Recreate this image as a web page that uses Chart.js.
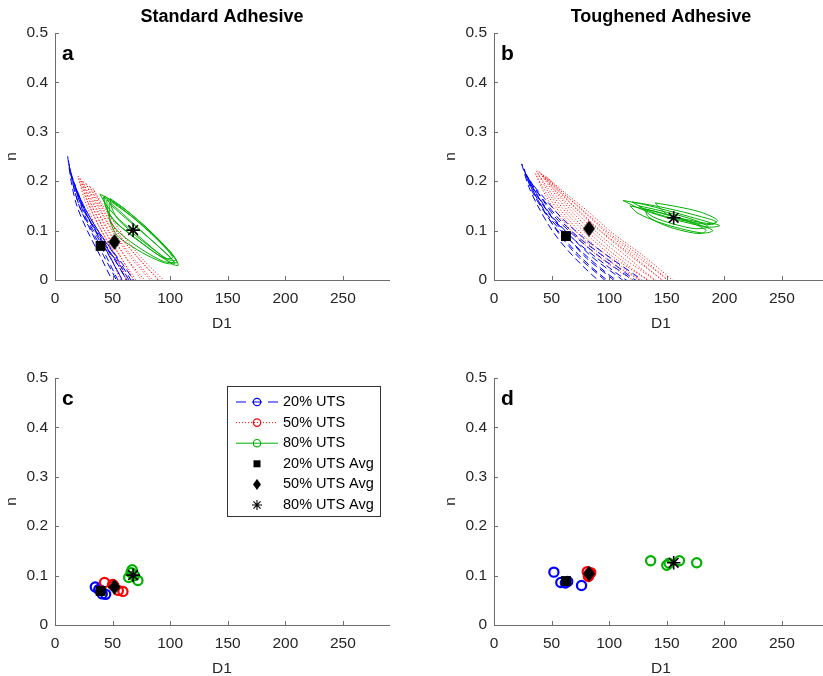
<!DOCTYPE html>
<html>
<head>
<meta charset="utf-8">
<script src="https://cdn.jsdelivr.net/npm/chart.js@4/dist/chart.umd.min.js"></script>
<style>
  html, body { margin: 0; padding: 0; background: #fff; }
  body { width: 823px; height: 676px; position: relative; overflow: hidden; }
  canvas { position: absolute; }
</style>
</head>
<body>
<canvas id="pa" width="411" height="340" style="left:0px;top:0px"></canvas>
<canvas id="pb" width="411" height="340" style="left:439px;top:0px"></canvas>
<canvas id="pc" width="411" height="340" style="left:0px;top:345px"></canvas>
<canvas id="pd" width="411" height="340" style="left:439px;top:345px"></canvas>
<script>
// ---- axis ticks ----
const xTickValues = [0, 50, 100, 150, 200, 250];
const yTickValues = [0, 0.1, 0.2, 0.3, 0.4, 0.5];
const yTickLabels = ['0', '0.1', '0.2', '0.3', '0.4', '0.5'];

// ---- Standard adhesive: (D1, n) contours per specimen ----
const stdCurves20 = [
  [[11,0.25],[14,0.20],[19,0.15],[28,0.10],[39,0.05],[51,-0.005],[54,-0.005],[42,0.05],[31,0.10],[21,0.15],[15,0.20],[11,0.25]],
  [[12,0.235],[16,0.19],[22,0.145],[32,0.10],[44,0.05],[56,-0.005],[59,-0.005],[47,0.05],[35,0.10],[24,0.145],[17,0.19],[12,0.235]],
  [[14,0.215],[19,0.175],[26,0.13],[36,0.09],[48,0.045],[60,-0.005],[63,-0.005],[51,0.045],[39,0.09],[28,0.13],[20,0.175],[14,0.215]],
  [[16,0.20],[22,0.16],[30,0.12],[40,0.08],[52,0.04],[64,-0.005],[67,-0.005],[55,0.04],[43,0.08],[32,0.12],[23,0.16],[16,0.20]],
  [[18,0.185],[25,0.145],[34,0.105],[45,0.065],[57,0.028],[66,-0.005],[69,-0.005],[60,0.028],[48,0.065],[36,0.105],[26,0.145],[18,0.185]]
];
const stdCurves50 = [
  [[20,0.21],[26,0.16],[35,0.11],[46,0.06],[58,-0.005],[62,-0.005],[50,0.06],[38,0.11],[28,0.16],[20,0.21]],
  [[22,0.205],[29,0.155],[39,0.105],[51,0.055],[65,-0.005],[69,-0.005],[55,0.055],[42,0.105],[31,0.155],[22,0.205]],
  [[24,0.20],[32,0.15],[43,0.10],[56,0.05],[72,-0.005],[76,-0.005],[60,0.05],[46,0.10],[34,0.15],[24,0.20]],
  [[27,0.195],[36,0.145],[48,0.095],[62,0.045],[80,-0.005],[84,-0.005],[66,0.045],[51,0.095],[38,0.145],[27,0.195]],
  [[30,0.19],[40,0.14],[53,0.09],[68,0.045],[87,-0.005],[91,-0.005],[72,0.045],[56,0.09],[42,0.14],[30,0.19]],
  [[33,0.185],[44,0.135],[58,0.085],[74,0.04],[93,-0.005],[96,-0.005],[77,0.04],[61,0.085],[46,0.135],[33,0.185]]
];
const stdCurves80 = [
  [[39,0.174],[50,0.160],[65,0.135],[80,0.105],[95,0.070],[104,0.045],[107,0.030],[102,0.032],[88,0.058],[72,0.090],[56,0.122],[45,0.150],[39,0.174]],
  [[43,0.170],[55,0.150],[70,0.122],[86,0.088],[100,0.055],[106,0.036],[100,0.036],[84,0.060],[66,0.092],[52,0.118],[44,0.150],[43,0.170]],
  [[45,0.162],[56,0.140],[70,0.110],[85,0.078],[98,0.050],[103,0.036],[94,0.038],[78,0.058],[62,0.084],[51,0.108],[46,0.135],[45,0.162]],
  [[47,0.155],[58,0.132],[72,0.104],[88,0.072],[100,0.046],[104,0.034],[96,0.034],[80,0.050],[64,0.072],[54,0.090],[48,0.118],[47,0.155]],
  [[42,0.168],[54,0.150],[68,0.126],[84,0.094],[97,0.062],[102,0.045],[94,0.045],[78,0.070],[62,0.098],[50,0.125],[44,0.148],[42,0.168]],
  [[48,0.165],[60,0.145],[75,0.115],[90,0.082],[101,0.055],[105,0.040],[98,0.042],[82,0.068],[66,0.098],[54,0.125],[49,0.148],[48,0.165]]
];

// ---- Toughened adhesive: (D1, n) contours per specimen ----
const tghCurves20 = [
  [[24,0.235],[30,0.19],[38,0.15],[52,0.095],[70,0.045],[93,-0.005],[98,-0.005],[74,0.045],[56,0.095],[41,0.15],[32,0.19],[24,0.235]],
  [[26,0.225],[33,0.18],[43,0.14],[57,0.095],[76,0.045],[101,-0.005],[106,-0.005],[80,0.045],[61,0.095],[46,0.14],[35,0.18],[26,0.225]],
  [[27,0.215],[35,0.175],[47,0.13],[62,0.09],[82,0.045],[109,-0.005],[114,-0.005],[86,0.045],[66,0.09],[50,0.13],[37,0.175],[27,0.215]],
  [[29,0.21],[38,0.17],[51,0.125],[68,0.085],[89,0.045],[118,-0.005],[123,-0.005],[93,0.045],[72,0.085],[54,0.125],[40,0.17],[29,0.21]],
  [[31,0.20],[42,0.165],[56,0.125],[74,0.085],[97,0.045],[126,-0.005],[131,-0.005],[101,0.045],[78,0.085],[59,0.125],[44,0.165],[31,0.20]]
];
const tghCurves50 = [
  [[36,0.215],[45,0.17],[58,0.125],[75,0.08],[95,0.04],[124,-0.005],[129,-0.005],[99,0.04],[79,0.08],[61,0.125],[47,0.17],[36,0.215]],
  [[37,0.22],[48,0.175],[62,0.13],[80,0.085],[102,0.042],[131,-0.005],[136,-0.005],[106,0.042],[84,0.085],[65,0.13],[50,0.175],[37,0.22]],
  [[39,0.22],[51,0.18],[66,0.135],[85,0.09],[108,0.045],[137,-0.005],[142,-0.005],[112,0.045],[89,0.09],[69,0.135],[53,0.18],[39,0.22]],
  [[41,0.215],[54,0.18],[70,0.14],[90,0.095],[114,0.05],[143,-0.005],[148,-0.005],[118,0.05],[94,0.095],[73,0.14],[56,0.18],[41,0.215]],
  [[43,0.212],[57,0.178],[74,0.14],[95,0.095],[120,0.05],[149,-0.005],[153,-0.005],[123,0.05],[98,0.095],[77,0.14],[59,0.178],[43,0.212]],
  [[45,0.21],[60,0.176],[78,0.14],[100,0.095],[126,0.05],[154,-0.005],[157,-0.005],[129,0.05],[103,0.095],[81,0.14],[62,0.176],[45,0.21]]
];
const tghCurves80 = [
  [[112,0.161],[130,0.153],[150,0.141],[170,0.128],[188,0.116],[196,0.110],[186,0.107],[166,0.117],[146,0.129],[126,0.145],[112,0.161]],
  [[120,0.158],[140,0.150],[160,0.140],[180,0.128],[193,0.118],[189,0.112],[170,0.118],[150,0.128],[132,0.142],[120,0.158]],
  [[126,0.150],[145,0.140],[165,0.128],[181,0.115],[186,0.107],[174,0.104],[155,0.114],[138,0.128],[126,0.150]],
  [[131,0.144],[150,0.132],[170,0.117],[184,0.101],[180,0.094],[165,0.099],[148,0.111],[134,0.128],[131,0.144]],
  [[140,0.156],[160,0.148],[180,0.137],[194,0.121],[189,0.114],[170,0.121],[150,0.133],[140,0.156]],
  [[118,0.150],[138,0.140],[158,0.128],[178,0.112],[190,0.100],[182,0.095],[162,0.104],[142,0.118],[125,0.135],[118,0.150]]
];

// ---- best-fit (D1, n) per specimen ----
const stdPoints20 = [[35,0.077],[38,0.072],[41,0.063],[44,0.062],[40,0.070]];
const stdPoints50 = [[43,0.086],[50,0.082],[55,0.070],[59,0.068],[51,0.080]];
const stdPoints80 = [[67,0.112],[66,0.106],[64,0.096],[72,0.090],[69,0.100]];
const tghPoints20 = [[52,0.107],[58,0.086],[62,0.085],[64,0.088],[76,0.080]];
const tghPoints50 = [[81,0.108],[82,0.100],[83,0.104],[84,0.106],[82,0.098]];
const tghPoints80 = [[136,0.130],[150,0.121],[152,0.125],[161,0.130],[176,0.126]];

// ---- averages: [20%, 50%, 80% UTS] ----
const stdAverages = [[39.6,0.069],[51.6,0.077],[67.8,0.101]];
const tghAverages = [[62.5,0.089],[82.5,0.104],[156,0.126]];

const legendLabels = ['20% UTS', '50% UTS', '80% UTS', '20% UTS Avg', '50% UTS Avg', '80% UTS Avg'];

// ---- styling ----
const FONT = "'Liberation Sans', Arial, Helvetica, sans-serif";
const AXIS = '#6e6e6e';
const TEXT = '#262626';
const BLUE = '#0000ff', RED = '#ff0000', GREEN = '#00b000';
const series = [
  { color: BLUE, dash: [7, 4] },
  { color: RED, dash: [1, 2] },
  { color: GREEN, dash: [] }
];

function makeDiamond(w, h) {
  const c = document.createElement('canvas');
  c.width = w; c.height = h;
  const g = c.getContext('2d');
  g.fillStyle = '#000';
  g.beginPath();
  g.moveTo(w / 2, 0); g.lineTo(w, h / 2); g.lineTo(w / 2, h); g.lineTo(0, h / 2);
  g.closePath(); g.fill();
  return c;
}
const diamondBig = makeDiamond(12, 16);
const diamondSmall = makeDiamond(8, 11);

const toXY = pts => pts.map(([x, y]) => ({ x, y }));

// higher "order" is painted first (underneath)
function curveSets(curves, s) {
  return curves.map(c => ({
    data: toXY(c), showLine: true, borderColor: s.color, borderWidth: 1,
    borderDash: s.dash, pointRadius: 0, tension: 0.3, fill: false, order: 3
  }));
}
function circleSet(points, s, order) {
  return {
    data: toXY(points), showLine: false, pointStyle: 'circle', pointRadius: 4.6,
    borderColor: s.color, borderWidth: 2.2, backgroundColor: 'rgba(0,0,0,0)', order
  };
}
function averageSets(avg) {
  return [
    { data: toXY([avg[0]]), showLine: false, pointStyle: 'rect', pointRadius: 7,
      backgroundColor: '#000', borderColor: '#000', borderWidth: 0, order: 1 },
    { data: toXY([avg[1]]), showLine: false, pointStyle: diamondBig, pointRadius: 7, order: 1 },
    { data: toXY([avg[2]]), showLine: false, pointStyle: 'star', pointRadius: 6.8,
      borderColor: '#000', borderWidth: 1.6, order: 1 }
  ];
}

function drawLegend(ctx) {
  const L = 227.5, T = 41.5, W = 153, H = 130;
  ctx.save();
  ctx.fillStyle = '#fff';
  ctx.fillRect(L, T, W, H);
  ctx.strokeStyle = '#333';
  ctx.lineWidth = 1;
  ctx.strokeRect(L, T, W, H);
  ctx.font = '14.5px ' + FONT;
  ctx.textBaseline = 'middle';
  ctx.textAlign = 'left';
  legendLabels.forEach((label, i) => {
    const yy = 57 + i * 20.6;
    const mx = 257;
    if (i < 3) {
      const s = series[i];
      ctx.strokeStyle = s.color;
      ctx.lineWidth = 1;
      ctx.setLineDash(i === 0 ? [10, 6] : s.dash);
      ctx.beginPath(); ctx.moveTo(236, yy); ctx.lineTo(278, yy); ctx.stroke();
      ctx.setLineDash([]);
      ctx.lineWidth = 1.2;
      ctx.beginPath(); ctx.arc(mx, yy, 3.7, 0, Math.PI * 2); ctx.stroke();
    } else if (i === 3) {
      ctx.fillStyle = '#000';
      ctx.fillRect(mx - 3.5, yy - 3.5, 7, 7);
    } else if (i === 4) {
      ctx.drawImage(diamondSmall, mx - 4, yy - 5.5);
    } else {
      ctx.strokeStyle = '#000'; ctx.lineWidth = 1.1;
      const r = 5, d = r * Math.SQRT1_2;
      ctx.beginPath();
      ctx.moveTo(mx - r, yy); ctx.lineTo(mx + r, yy);
      ctx.moveTo(mx, yy - r); ctx.lineTo(mx, yy + r);
      ctx.moveTo(mx - d, yy - d); ctx.lineTo(mx + d, yy + d);
      ctx.moveTo(mx - d, yy + d); ctx.lineTo(mx + d, yy - d);
      ctx.stroke();
    }
    ctx.fillStyle = '#000';
    ctx.fillText(label, 283, yy);
  });
  ctx.restore();
}

// axis decorations: inward ticks, labels, panel letters, titles, legend
const decor = {
  id: 'decor',
  afterDatasetsDraw(chart, args, opts) {
    const { ctx, chartArea: { left, top, right, bottom }, scales: { x, y } } = chart;
    ctx.save();
    ctx.strokeStyle = AXIS;
    ctx.lineWidth = 1;
    ctx.beginPath();
    x.ticks.forEach(t => {
      const px = Math.round(x.getPixelForValue(t.value)) + 0.5;
      ctx.moveTo(px, bottom); ctx.lineTo(px, bottom - 4);
    });
    y.ticks.forEach(t => {
      const py = Math.round(y.getPixelForValue(t.value)) + 0.5;
      ctx.moveTo(left, py); ctx.lineTo(left + 4, py);
    });
    ctx.stroke();

    ctx.fillStyle = '#000';
    ctx.textBaseline = 'alphabetic';
    ctx.textAlign = 'left';
    ctx.font = 'bold 21px ' + FONT;
    ctx.fillText(opts.letter, left + 7, top + 27);

    if (opts.title) {
      ctx.font = 'bold 18px ' + FONT;
      ctx.textAlign = 'center';
      ctx.fillText(opts.title, (left + right) / 2, 21.5);
    }

    ctx.fillStyle = TEXT;
    ctx.font = '15.5px ' + FONT;
    ctx.textAlign = 'center';
    ctx.fillText('D1', (left + right) / 2, bottom + 48);
    ctx.save();
    ctx.translate(12, (top + bottom) / 2);
    ctx.rotate(-Math.PI / 2);
    ctx.textBaseline = 'middle';
    ctx.fillText('n', 0, 0);
    ctx.restore();

    if (opts.legend) drawLegend(ctx);
    ctx.restore();
  }
};

function makePanel(id, datasets, opts) {
  const tickFont = { family: FONT, size: 15.5 };
  new Chart(document.getElementById(id), {
    type: 'scatter',
    data: { datasets },
    plugins: [decor],
    options: {
      responsive: false,
      animation: false,
      devicePixelRatio: 1,
      events: [],
      layout: { padding: { top: 33, right: 22, left: 0, bottom: 0 } },
      plugins: { legend: { display: false }, tooltip: { enabled: false }, decor: opts },
      scales: {
        x: {
          type: 'linear', min: 0, max: 290,
          afterBuildTicks: s => { s.ticks = xTickValues.map(v => ({ value: v })); },
          afterFit: s => { s.height = 60; },
          grid: { display: false, drawTicks: false },
          border: { display: true, color: AXIS, width: 1 },
          ticks: { font: tickFont, color: TEXT, padding: 9.5, maxRotation: 0, autoSkip: false,
                   callback: v => String(v) }
        },
        y: {
          type: 'linear', min: 0, max: 0.5,
          afterBuildTicks: s => { s.ticks = yTickValues.map(v => ({ value: v })); },
          afterFit: s => { s.width = 55; },
          grid: { display: false, drawTicks: false },
          border: { display: true, color: AXIS, width: 1 },
          ticks: { font: tickFont, color: TEXT, padding: 7, autoSkip: false,
                   callback: v => yTickLabels[yTickValues.findIndex(t => Math.abs(t - v) < 1e-9)] }
        }
      }
    }
  });
}

makePanel('pa', [
  ...curveSets(stdCurves20, series[0]),
  ...curveSets(stdCurves50, series[1]),
  ...curveSets(stdCurves80, series[2]),
  ...averageSets(stdAverages)
], { letter: 'a', title: 'Standard Adhesive' });

makePanel('pb', [
  ...curveSets(tghCurves20, series[0]),
  ...curveSets(tghCurves50, series[1]),
  ...curveSets(tghCurves80, series[2]),
  ...averageSets(tghAverages)
], { letter: 'b', title: 'Toughened Adhesive' });

makePanel('pc', [
  circleSet(stdPoints20, series[0], 4),
  circleSet(stdPoints50, series[1], 3),
  circleSet(stdPoints80, series[2], 2),
  ...averageSets(stdAverages)
], { letter: 'c', legend: true });

makePanel('pd', [
  circleSet(tghPoints20, series[0], 4),
  circleSet(tghPoints50, series[1], 3),
  circleSet(tghPoints80, series[2], 2),
  ...averageSets(tghAverages)
], { letter: 'd' });
</script>
</body>
</html>
